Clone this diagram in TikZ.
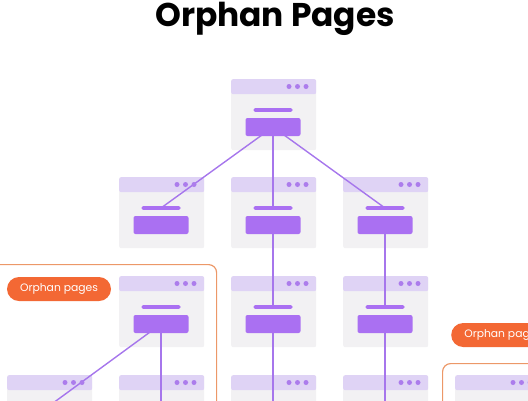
\documentclass[tikz,border=0pt]{standalone}
\usepackage{fontspec}
\setmainfont{Poppins}
\usetikzlibrary{positioning,calc}
\definecolor{pagegray}{RGB}{242,241,243}
\definecolor{pagehead}{RGB}{223,211,245}
\definecolor{pagepurple}{RGB}{170,112,242}
\definecolor{dotpurple}{RGB}{172,124,236}
\definecolor{linkpurple}{RGB}{166,118,236}
\definecolor{orphanline}{RGB}{236,152,104}
\definecolor{orphanfill}{RGB}{243,104,52}

\pgfdeclarelayer{cards}
\pgfdeclarelayer{front}
\pgfsetlayers{cards,main,front}

\tikzset{
  body/.style={rectangle, fill=pagegray, rounded corners=2pt, inner sep=0pt,
               minimum width=85bp, minimum height=71bp, anchor=north west},
  head/.style={rectangle, fill=pagehead, rounded corners=2pt, inner sep=0pt,
               minimum width=85bp, minimum height=15bp, anchor=north west},
  bar/.style={rectangle, fill=pagepurple, rounded corners=1.5pt, inner sep=0pt,
              minimum width=39bp, minimum height=3.6bp},
  button/.style={rectangle, fill=pagepurple, rounded corners=2pt, inner sep=0pt,
                 minimum width=55bp, minimum height=18bp},
  dot/.style={circle, fill=dotpurple, inner sep=0pt, minimum size=5bp},
  link/.style={draw=linkpurple, line width=1.4bp},
  group/.style={rectangle, draw=orphanline, line width=1.2bp, rounded corners=8pt,
                inner sep=0pt, anchor=north west},
  tag/.style={rectangle, fill=orphanfill, rounded corners=12bp, inner sep=0pt,
              minimum width=104bp, minimum height=24bp, text=white,
              font=\fontsize{10.8}{12}\selectfont}
}

% one web page card: name, left, top
\newcommand\webpage[3]{%
  \begin{pgfonlayer}{cards}
    \node[body] (#1) at (#2,#3) {};
    \node[head] (#1-head) at (#2,#3) {};
  \end{pgfonlayer}
  \begin{pgfonlayer}{front}
    \node[bar] (#1-bar) at ($(#1.north west)+(42,31)$) {};
    \node[button] (#1-btn) at ($(#1.north west)+(42,48)$) {};
    \foreach \dx [count=\i] in {58,66.5,75}
      \node[dot] (#1-dot\i) at ($(#1.north west)+(\dx,7.5)$) {};
  \end{pgfonlayer}
}

\begin{document}
\begin{tikzpicture}[x=1bp, y=-1bp]
  \useasboundingbox (0,0) rectangle (528,400);
  \clip (0,0) rectangle (528,400);

  \node[font=\fontsize{33}{40}\selectfont\bfseries] (title) at (275,19) {Orphan Pages};

  % orphan groups
  \begin{pgfonlayer}{cards}
    \node[group, minimum width=230bp, minimum height=170bp] (orphans1) at (-14,264) {};
    \node[group, minimum width=120bp, minimum height=80bp] (orphans2) at (442,363) {};
  \end{pgfonlayer}
  \begin{pgfonlayer}{front}
    \node[tag] (tag1) at (59,289) {Orphan pages};
    \node[tag, anchor=west] (tag2) at (451,335) {Orphan pages};
  \end{pgfonlayer}

  % cards
  \webpage{home}{231}{79}
  \webpage{a}{119}{177}
  \webpage{b}{231}{177}
  \webpage{c}{343}{177}
  \webpage{orph}{119}{276}
  \webpage{b2}{231}{276}
  \webpage{c2}{343}{276}
  \webpage{o1}{7}{375}
  \webpage{o2}{119}{375}
  \webpage{b3}{231}{375}
  \webpage{c3}{343}{375}
  \webpage{o3}{455}{375}

  % links
  \draw[link] (home-btn.center) -- (a-bar.center);
  \draw[link] (home-btn.center) -- (b-bar.center);
  \draw[link] (home-btn.center) -- (c-bar.center);
  \draw[link] (b-btn.center) -- (b2-bar.center);
  \draw[link] (c-btn.center) -- (c2-bar.center);
  \draw[link] (b2-btn.center) -- (b3-bar.center);
  \draw[link] (c2-btn.center) -- (c3-bar.center);
  \draw[link] (orph-btn.center) -- (o1-bar.center);
  \draw[link] (orph-btn.center) -- (o2-bar.center);
\end{tikzpicture}
\end{document}
